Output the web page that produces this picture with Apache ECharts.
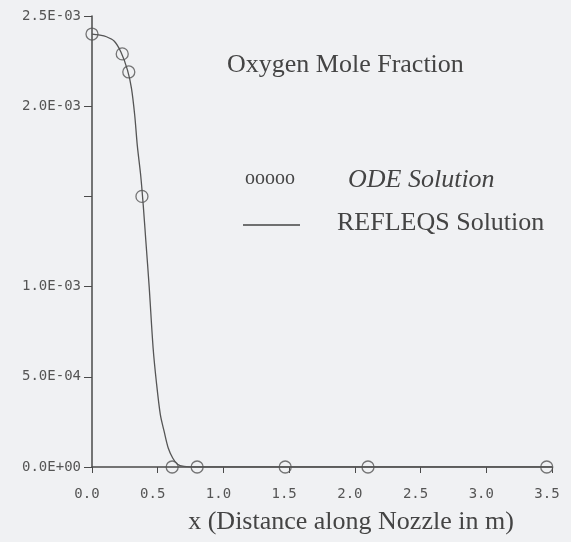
<!DOCTYPE html>
<html>
<head>
<meta charset="utf-8">
<script src="https://cdn.jsdelivr.net/npm/echarts@6/dist/echarts.min.js"></script>
<style>
html,body{margin:0;padding:0;background:#f0f1f3;}
#c{width:571px;height:542px;}
</style>
</head>
<body>
<div id="c"></div>
<script>
// ODE Solution (circles)
const odeX = [0.00, 0.23, 0.28, 0.38, 0.61, 0.80, 1.47, 2.10, 3.46];
const odeY = [2.40e-3, 2.29e-3, 2.19e-3, 1.50e-3, 0, 0, 0, 0, 0];
// REFLEQS Solution (line)
const refX = [0.00, 0.05, 0.11, 0.17, 0.22, 0.27, 0.30, 0.325, 0.345, 0.37, 0.39, 0.41, 0.435, 0.465, 0.49, 0.52, 0.548, 0.58, 0.614, 0.65, 0.70, 0.80, 3.50];
const refY = [2.40e-3, 2.395e-3, 2.385e-3, 2.36e-3, 2.30e-3, 2.20e-3, 2.10e-3, 1.95e-3, 1.78e-3, 1.62e-3, 1.45e-3, 1.25e-3, 1.00e-3, 0.66e-3, 0.47e-3, 0.29e-3, 0.20e-3, 0.105e-3, 0.05e-3, 0.015e-3, 0.003e-3, 0, 0];
// tick labels
const xTickLabels = ['0.0', '0.5', '1.0', '1.5', '2.0', '2.5', '3.0', '3.5'];
const yTickLabels = ['0.0E+00', '5.0E-04', '1.0E-03', '', '2.0E-03', '2.5E-03'];
const titleText = 'Oxygen Mole Fraction';
const xName = 'x (Distance along Nozzle in m)';
const legendOde = 'ODE Solution';
const legendRef = 'REFLEQS Solution';

const ink = '#4a4a4a';
const mono = '"DejaVu Sans Mono", "Liberation Mono", monospace';
const serif = '"Liberation Serif", "DejaVu Serif", serif';

const chart = echarts.init(document.getElementById('c'), null, {renderer: 'canvas'});
chart.setOption({
  backgroundColor: '#f0f1f3',
  animation: false,
  grid: {left: 92, right: 19, top: 16, bottom: 75, containLabel: false},
  xAxis: {
    type: 'value', min: 0, max: 3.5, interval: 0.5,
    axisLine: {show: true, lineStyle: {color: ink, width: 1.5}},
    axisTick: {show: true, inside: false, length: 6, lineStyle: {color: ink, width: 1}},
    splitLine: {show: false},
    axisLabel: {
      margin: 20, color: '#555', fontFamily: mono, fontSize: 14,
      padding: [0, 10, 0, 0],
      formatter: (v) => xTickLabels[Math.round(v / 0.5)] ?? ''
    },
    name: xName, nameLocation: 'middle', nameGap: 42,
    nameTextStyle: {color: '#444', fontFamily: serif, fontSize: 26, padding: [0, 0, 0, 58]}
  },
  yAxis: {
    type: 'value', min: 0, max: 0.0025, interval: 0.0005,
    axisLine: {show: true, lineStyle: {color: ink, width: 1.5}},
    axisTick: {show: true, inside: false, length: 8, lineStyle: {color: ink, width: 1}},
    splitLine: {show: false},
    axisLabel: {
      margin: 11, color: '#555', fontFamily: mono, fontSize: 14,
      showMinLabel: true, showMaxLabel: true,
      formatter: (v) => yTickLabels[Math.round(v / 0.0005)] ?? ''
    }
  },
  series: [
    {
      name: legendRef, type: 'line',
      data: refX.map((x, i) => [x, refY[i]]),
      showSymbol: false, symbol: 'none', smooth: 0.3,
      lineStyle: {color: '#555', width: 1.3}, z: 3
    },
    {
      name: legendOde, type: 'scatter',
      data: odeX.map((x, i) => [x, odeY[i]]),
      symbol: 'circle', symbolSize: 12,
      itemStyle: {color: 'rgba(0,0,0,0)', borderColor: '#555', borderWidth: 1.3}, z: 4
    }
  ],
  graphic: [
    {type: 'text', left: 227, top: 67 - 15,
     style: {text: titleText, font: '26px ' + serif, fill: '#444'}},
    {type: 'text', left: 245, top: 182 - 13,
     style: {text: 'ooooo', font: '20px ' + serif, fill: '#444'}},
    {type: 'text', left: 348, top: 182 - 15,
     style: {text: legendOde, font: 'italic 26px ' + serif, fill: '#444'}},
    {type: 'line', shape: {x1: 243, y1: 225, x2: 300, y2: 225},
     style: {stroke: '#444', lineWidth: 1.5}},
    {type: 'text', left: 337, top: 225 - 15,
     style: {text: legendRef, font: '26px ' + serif, fill: '#444'}}
  ]
});
</script>
</body>
</html>
